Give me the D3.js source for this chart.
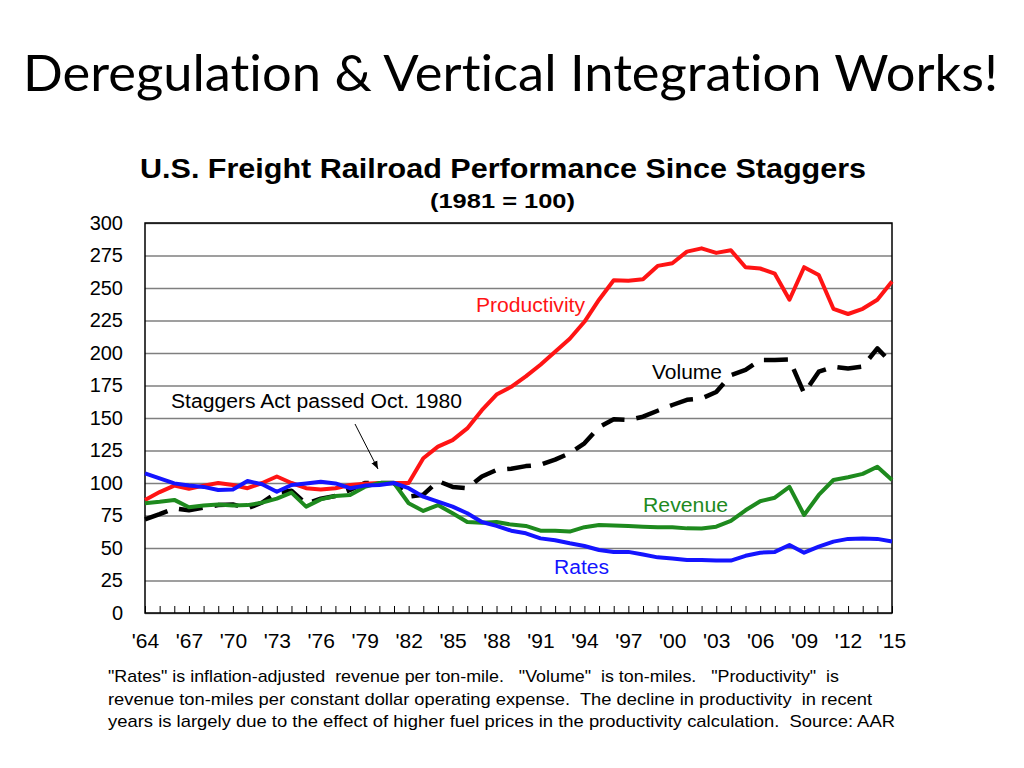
<!DOCTYPE html>
<html>
<head>
<meta charset="utf-8">
<script src="https://cdn.jsdelivr.net/npm/d3@7"></script>
<style>
  html, body { margin: 0; padding: 0; background: #fff; }
  svg { display: block; }
  text { font-variant-ligatures: none; font-feature-settings: "liga" 0, "dlig" 0; }
</style>
</head>
<body>
<svg id="chart" width="1024" height="768"></svg>
<script>
// ---- data ----
const years = d3.range(1964, 2016);
const productivity = [87, 93, 98, 95.5, 98, 100, 98.5, 96, 100, 105, 100, 96, 95, 96, 98.5, 99.5, 100, 100,
  100, 119, 128, 133, 142, 156, 168, 174, 182, 191, 201, 211, 224, 241, 256, 255.5, 256.7, 267, 269, 278,
  280.5, 277, 279, 266, 265, 261, 241, 266, 260, 234, 230, 234, 241, 255];
const volume = [72, 76, 80.5, 79, 81, 83, 83.5, 80.5, 85, 92.6, 94, 84, 88, 90, 94.6, 100, 100, 100,
  89.5, 91, 101.5, 97, 96, 105, 110, 111, 113, 114, 118, 123, 130.5, 143, 149, 148.5, 151, 155.6, 160, 164,
  165, 170, 183, 187, 194.6, 194.6, 195, 169, 185.6, 189.5, 188, 189.5, 203.6, 192];
const revenue = [84.4, 85.5, 87, 81.3, 82.7, 83.5, 82.7, 83, 84.9, 88, 92.6, 81.8, 87.4, 90, 90.8, 97, 100, 100,
  84.4, 78.5, 83, 76.7, 70, 69.5, 70, 68, 67, 63.3, 63.3, 62.6, 66, 67.7, 67.4, 67, 66.4, 66, 66, 65.1,
  65, 66.4, 70.8, 79, 86, 88.7, 97, 75.4, 90.8, 102.3, 104.4, 107, 112.5, 102.3];
const rates = [107.4, 103.5, 99.7, 98, 97, 94.6, 95, 101.5, 99, 93.3, 98.5, 99.7, 101, 99.7, 96, 98, 98.5, 100,
  96, 89.5, 85.6, 81.8, 76.7, 70, 67, 63.3, 61.3, 57.4, 56, 53.6, 51.5, 48.5, 47, 47, 45, 42.8, 42, 40.8,
  40.8, 40.3, 40.3, 44, 46.4, 47, 52.3, 46.4, 51, 54.9, 57, 57.4, 57, 55];
const yTicks = [0, 25, 50, 75, 100, 125, 150, 175, 200, 225, 250, 275, 300];
const xLabelYears = d3.range(1964, 2016, 3);
const title = "Deregulation & Vertical Integration Works!";
const chartTitle = "U.S. Freight Railroad Performance Since Staggers";
const chartSubtitle = "(1981 = 100)";
const footnote = [
  "\"Rates\" is inflation-adjusted  revenue per ton-mile.   \"Volume\"  is ton-miles.   \"Productivity\"  is",
  "revenue ton-miles per constant dollar operating expense.  The decline in productivity  in recent",
  "years is largely due to the effect of higher fuel prices in the productivity calculation.  Source: AAR"
];

// ---- layout ----
const svg = d3.select("#chart");
const L = 145, R = 892, T = 223, B = 613;
const x = d3.scaleLinear().domain([1964, 2015]).range([L, R]);
const y = d3.scaleLinear().domain([0, 300]).range([B, T]);
const font = "'Liberation Sans', Arial, sans-serif";

// main title
svg.append("text")
  .attr("x", 23).attr("y", 91)
  .attr("font-family", "Lato, 'Open Sans', sans-serif")
  .attr("font-size", 50)
  .attr("textLength", 975).attr("lengthAdjust", "spacingAndGlyphs")
  .attr("fill", "#000")
  .text(title);

// chart title
svg.append("text")
  .attr("x", 140).attr("y", 178)
  .attr("font-family", font).attr("font-weight", "bold").attr("font-size", 27)
  .attr("textLength", 726).attr("lengthAdjust", "spacingAndGlyphs")
  .text(chartTitle);
svg.append("text")
  .attr("x", 430).attr("y", 208)
  .attr("font-family", font).attr("font-weight", "bold").attr("font-size", 20)
  .attr("textLength", 145).attr("lengthAdjust", "spacingAndGlyphs")
  .text(chartSubtitle);

// gridlines
const grid = svg.append("g").attr("transform", `translate(${L},0)`)
  .call(d3.axisLeft(y).tickValues(yTicks).tickSize(-(R - L)).tickFormat(""));
grid.select(".domain").remove();
grid.selectAll(".tick line").attr("stroke", "#7f7f7f").attr("stroke-width", 1.5);

// y labels
const yl = svg.append("g").attr("transform", `translate(${L},0)`)
  .call(d3.axisLeft(y).tickValues(yTicks).tickSize(0).tickPadding(22));
yl.select(".domain").remove();
yl.selectAll("text").attr("font-family", font).attr("font-size", 20).attr("fill", "#000");

// minor ticks on bottom (inward)
const xt = svg.append("g").attr("transform", `translate(0,${B})`)
  .call(d3.axisBottom(x).tickValues(years).tickSize(-7).tickFormat(""));
xt.select(".domain").remove();
xt.selectAll(".tick line").attr("stroke", "#000").attr("stroke-width", 1);

// x labels
const xl = svg.append("g").attr("transform", `translate(0,${B})`)
  .call(d3.axisBottom(x).tickValues(xLabelYears).tickSize(0).tickPadding(20)
    .tickFormat(d => "'" + String(d % 100).padStart(2, "0")));
xl.select(".domain").remove();
xl.selectAll("text").attr("font-family", font).attr("font-size", 21).attr("fill", "#000");

// frame
svg.append("rect").attr("x", L).attr("y", T).attr("width", R - L).attr("height", B - T)
  .attr("fill", "none").attr("stroke", "#000").attr("stroke-width", 1.5);

// lines
const line = d3.line().x((d, i) => x(years[i])).y(d => y(d));
function drawLine(data, color, dash, w) {
  svg.append("path").datum(data)
    .attr("d", line)
    .attr("fill", "none").attr("stroke", color)
    .attr("stroke-width", w)
    .attr("stroke-linejoin", "round")
    .attr("stroke-dasharray", dash);
}
drawLine(volume, "#000", "24,12", 4.5);
drawLine(productivity, "#ff1414", null, 4);
drawLine(revenue, "#1e8a1e", null, 4);
drawLine(rates, "#1414ff", null, 4);

// series labels
function label(txt, xx, yy, color, len) {
  svg.append("text").attr("x", xx).attr("y", yy)
    .attr("font-family", font).attr("font-size", 20).attr("fill", color)
    .attr("textLength", len).attr("lengthAdjust", "spacingAndGlyphs")
    .text(txt);
}
label("Productivity", 476, 312, "#ff1414", 109);
label("Volume", 652, 379, "#000", 70);
label("Revenue", 643, 512, "#1e8a1e", 85);
label("Rates", 554, 574, "#1414ff", 55);
label("Staggers Act passed Oct. 1980", 171, 408, "#000", 291);

// arrow
svg.append("defs").append("marker")
  .attr("id", "ah").attr("viewBox", "0 0 10 10").attr("refX", 10).attr("refY", 5)
  .attr("markerWidth", 8).attr("markerHeight", 8).attr("orient", "auto")
  .append("path").attr("d", "M0,1 L10,5 L0,9 z").attr("fill", "#000");
svg.append("line").attr("x1", 355).attr("y1", 424).attr("x2", 378).attr("y2", 469)
  .attr("stroke", "#000").attr("stroke-width", 1).attr("marker-end", "url(#ah)");

// footnote
const lens = [731, 764, 787];
footnote.forEach((t, i) => {
  svg.append("text").attr("x", 108).attr("y", 682 + i * 22.5)
    .attr("font-family", font).attr("font-size", 17).attr("fill", "#000")
    .attr("textLength", lens[i]).attr("lengthAdjust", "spacingAndGlyphs")
    .attr("xml:space", "preserve")
    .style("white-space", "pre")
    .text(t);
});
</script>
</body>
</html>
